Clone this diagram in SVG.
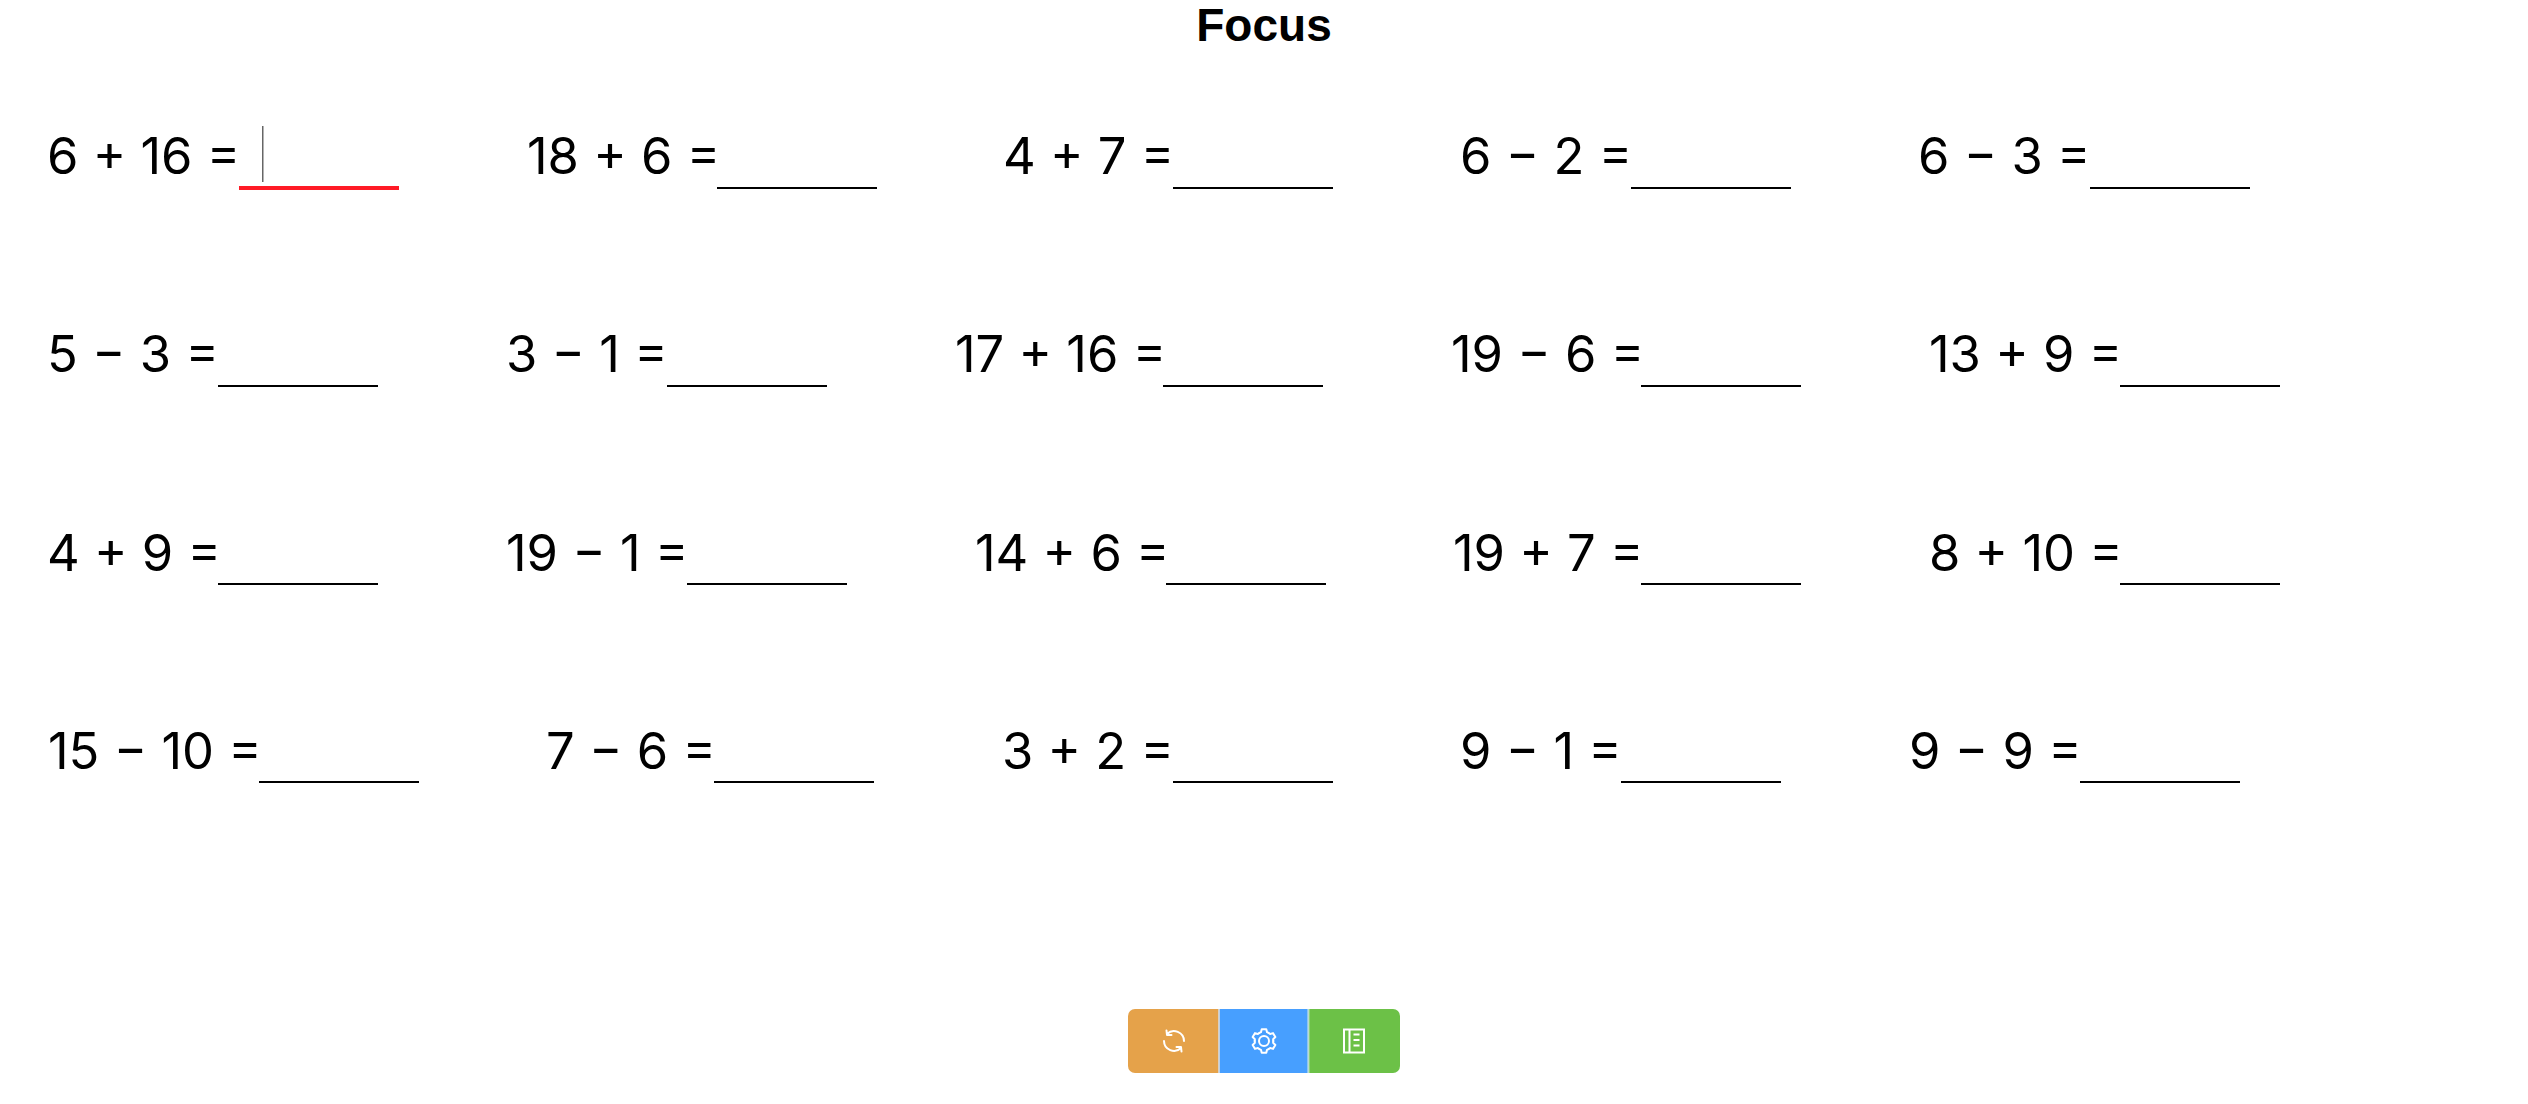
<svg xmlns="http://www.w3.org/2000/svg" width="2528" height="1104" viewBox="0 0 2528 1104">
<style>
text{fill:#000}
.q{font-family:Inter,"Liberation Sans",sans-serif;font-size:50.700px}
.t{font-family:"Liberation Sans",Arial,sans-serif;font-size:46px;font-weight:700}
.l{fill:#000}
.ic{fill:none;stroke:#fff;stroke-linecap:round;stroke-linejoin:round;stroke-width:2}
</style>
<defs>
<path id="lobe" d="M-4.65-8.05L-3.03-8.79-2.29-11.78H2.29L3.03-8.79 4.65-8.05"/>
</defs>
<rect width="2528" height="1104" fill="#fff"/>
<g id="title"><text class="t" x="1264" y="41" text-anchor="middle">Focus</text></g>
<g id="q1"><text class="q" x="47" y="174">6 + 16 =</text><rect x="239" y="186" width="160" height="4" fill="#ff1a26"/><rect x="262" y="126" width="1.500" height="56" fill="#666"/></g>
<g id="q2"><text class="q" x="527" y="174">18 + 6 =</text><rect class="l" x="717" y="187" width="160" height="2"/></g>
<g id="q3"><text class="q" x="1003" y="174">4 + 7 =</text><rect class="l" x="1173" y="187" width="160" height="2"/></g>
<g id="q4"><text class="q" x="1460" y="174">6 − 2 =</text><rect class="l" x="1631" y="187" width="160" height="2"/></g>
<g id="q5"><text class="q" x="1918" y="174">6 − 3 =</text><rect class="l" x="2090" y="187" width="160" height="2"/></g>
<g id="q6"><text class="q" x="47" y="372">5 − 3 =</text><rect class="l" x="218" y="385" width="160" height="2"/></g>
<g id="q7"><text class="q" x="506" y="372">3 − 1 =</text><rect class="l" x="667" y="385" width="160" height="2"/></g>
<g id="q8"><text class="q" x="955" y="372">17 + 16 =</text><rect class="l" x="1163" y="385" width="160" height="2"/></g>
<g id="q9"><text class="q" x="1451" y="372">19 − 6 =</text><rect class="l" x="1641" y="385" width="160" height="2"/></g>
<g id="q10"><text class="q" x="1929" y="372">13 + 9 =</text><rect class="l" x="2120" y="385" width="160" height="2"/></g>
<g id="q11"><text class="q" x="47" y="570.500">4 + 9 =</text><rect class="l" x="218" y="583" width="160" height="2"/></g>
<g id="q12"><text class="q" x="506" y="570.500">19 − 1 =</text><rect class="l" x="687" y="583" width="160" height="2"/></g>
<g id="q13"><text class="q" x="975" y="570.500">14 + 6 =</text><rect class="l" x="1166" y="583" width="160" height="2"/></g>
<g id="q14"><text class="q" x="1453" y="570.500">19 + 7 =</text><rect class="l" x="1641" y="583" width="160" height="2"/></g>
<g id="q15"><text class="q" x="1929" y="570.500">8 + 10 =</text><rect class="l" x="2120" y="583" width="160" height="2"/></g>
<g id="q16"><text class="q" x="48" y="768.500">15 − 10 =</text><rect class="l" x="259" y="781" width="160" height="2"/></g>
<g id="q17"><text class="q" x="546" y="768.500">7 − 6 =</text><rect class="l" x="714" y="781" width="160" height="2"/></g>
<g id="q18"><text class="q" x="1002" y="768.500">3 + 2 =</text><rect class="l" x="1173" y="781" width="160" height="2"/></g>
<g id="q19"><text class="q" x="1460" y="768.500">9 − 1 =</text><rect class="l" x="1621" y="781" width="160" height="2"/></g>
<g id="q20"><text class="q" x="1909" y="768.500">9 − 9 =</text><rect class="l" x="2080" y="781" width="160" height="2"/></g>
<g id="btn-refresh"><path d="M1135 1009H1218.500V1073H1135a7 7 0 0 1-7-7V1016a7 7 0 0 1 7-7Z" fill="#e5a24a"/><path class="ic" d="M1184 1041A10 10 0 0 0 1167 1034M1166.500 1030.500L1167 1035H1171.500M1164 1041A10 10 0 0 0 1181 1048M1181.500 1051.500L1181 1047H1176.500"/></g>
<g id="btn-settings"><rect x="1218.500" y="1009" width="1.500" height="64" fill="#bcd0e6"/><rect x="1220" y="1009" width="87.700" height="64" fill="#479fff"/><circle class="ic" cx="1264" cy="1041" r="5"/><g class="ic" transform="translate(1264 1041)"><use href="#lobe"/><use href="#lobe" transform="rotate(60)"/><use href="#lobe" transform="rotate(120)"/><use href="#lobe" transform="rotate(180)"/><use href="#lobe" transform="rotate(240)"/><use href="#lobe" transform="rotate(300)"/></g></g>
<g id="btn-notes"><rect x="1307.700" y="1009" width="1.600" height="64" fill="#b9dccf"/><path d="M1309.300 1009H1393a7 7 0 0 1 7 7V1066a7 7 0 0 1-7 7H1309.300Z" fill="#6cc147"/><path class="ic" style="stroke-linecap:butt;stroke-linejoin:miter" d="M1344 1029.500H1364V1052.500H1344ZM1349.500 1029.500V1052.500M1353.500 1034.500H1359.500M1353.500 1040H1359.500M1353.500 1045.500H1359.500"/></g>
</svg>
